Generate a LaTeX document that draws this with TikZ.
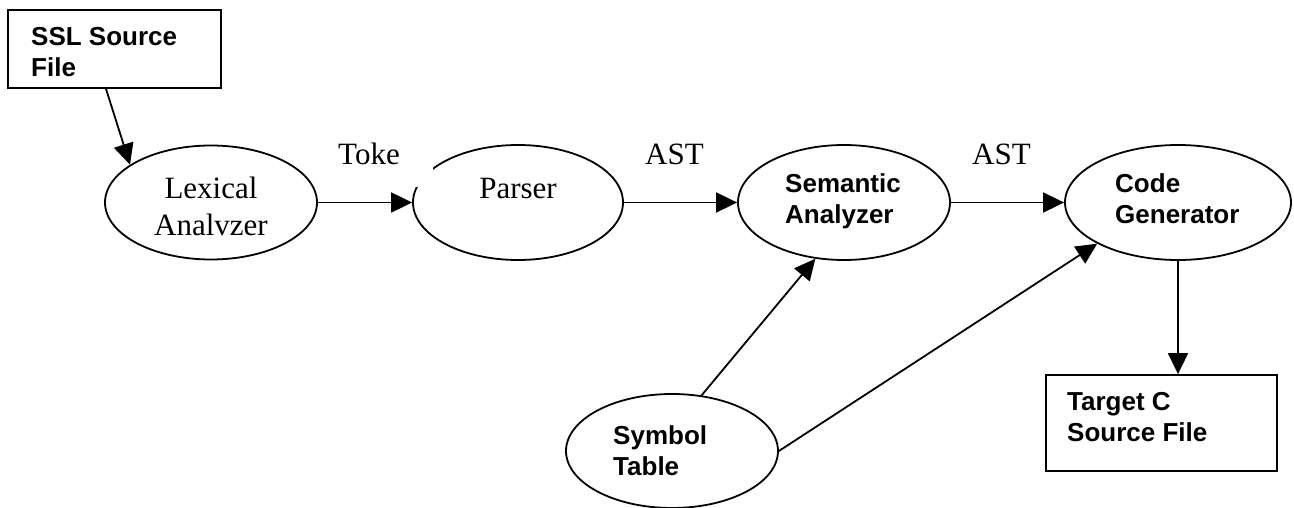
\documentclass[tikz,border=0pt]{standalone}
\usepackage{fontspec}
\setmainfont{Liberation Serif}
\newfontfamily\labfont{Liberation Sans}
\usetikzlibrary{arrows.meta,shapes.geometric}

\tikzset{
  oval/.style={draw, ellipse, line width=1.8pt, inner sep=0pt},
  filebox/.style={draw, rectangle, line width=1.8pt, inner sep=0pt},
  arr/.style={line width=1.8pt, -{Triangle[length=21pt,width=20pt]}},
  boldtxt/.style={font=\labfont\bfseries\fontsize{26}{31}\selectfont, inner sep=0pt, anchor=base west},
  romtxt/.style={font=\fontsize{31}{36}\selectfont, inner sep=0pt, anchor=base},
}

\begin{document}
\begin{tikzpicture}[x=1pt,y=-1pt]
\useasboundingbox (0,0) rectangle (1294,508);

% boxes and processing stages
\node[filebox, minimum width=213pt, minimum height=78pt] (ssl) at (114.5,49) {};
\node[oval, minimum width=212pt, minimum height=114pt] (lex) at (211,202.5) {};
\node[oval, minimum width=210pt, minimum height=115pt] (parser) at (518,202.5) {};
\node[oval, minimum width=212pt, minimum height=115pt] (sem) at (844,202.5) {};
\node[oval, minimum width=226pt, minimum height=115pt] (code) at (1178,202.5) {};
\node[oval, minimum width=212pt, minimum height=114pt] (sym) at (672,451) {};
\node[filebox, minimum width=231pt, minimum height=96pt] (target) at (1161.5,423) {};

% texts inside the shapes
\node[boldtxt] (ssltxt) at (31,46) {\begin{tabular}[t]{@{}l@{}}SSL Source\\File\end{tabular}};
\node[romtxt] (lextxt) at (211,199) {\begin{tabular}[t]{@{}c@{}}Lexical\\Analvzer\end{tabular}};
\node[romtxt] (parsertxt) at (518,198) {Parser};
\node[boldtxt] (semtxt) at (785,193) {\begin{tabular}[t]{@{}l@{}}Semantic\\Analyzer\end{tabular}};
\node[boldtxt] (codetxt) at (1115,193) {\begin{tabular}[t]{@{}l@{}}Code\\Generator\end{tabular}};
\node[boldtxt] (symtxt) at (613,444) {\begin{tabular}[t]{@{}l@{}}Symbol\\Table\end{tabular}};
\node[boldtxt] (targettxt) at (1067,410) {\begin{tabular}[t]{@{}l@{}}Target C\\Source File\end{tabular}};

% edge labels (the first one sits on a white patch)
\node[romtxt, anchor=base west, fill=white, text width=95pt, align=left, text depth=22pt] (toke) at (338,165) {Toke};
\node[romtxt, anchor=base west] (ast1) at (645,165) {AST};
\node[romtxt, anchor=base west] (ast2) at (972,165) {AST};

% connectors
\draw[arr] ([xshift=-8.5pt]ssl.south) -- (lex.155.9);
\draw[arr] (lex.east) -- (parser.west);
\draw[arr] (parser.east) -- (sem.west);
\draw[arr] (sem.east) -- (code.west);
\draw[arr] (sym.62.6) -- (sem.243.2);
\draw[arr] (sym.east) -- (code.207.8);
\draw[arr] (code.south) -- (code.south |- target.north);
\end{tikzpicture}
\end{document}
